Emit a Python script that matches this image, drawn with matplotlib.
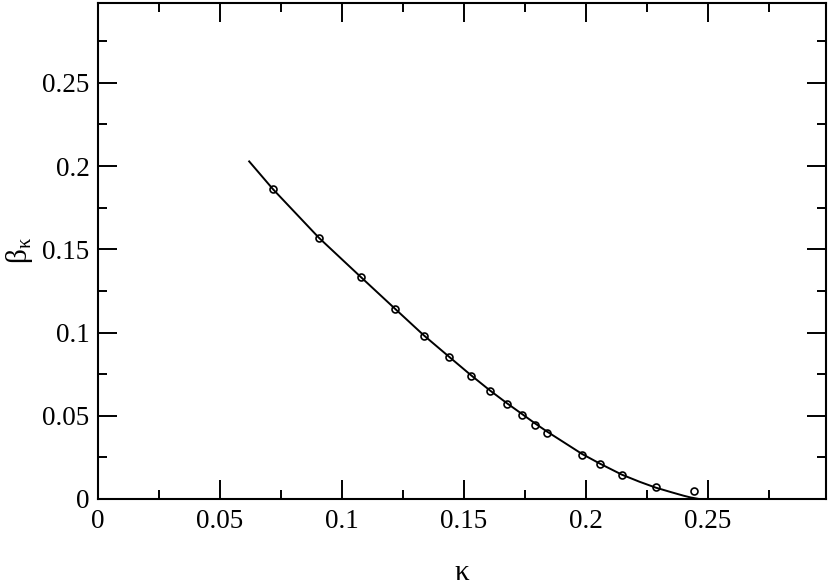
import numpy as np
import matplotlib
matplotlib.use("Agg")
import matplotlib.pyplot as plt
from matplotlib.ticker import MultipleLocator

plt.rcParams['font.family'] = ['Liberation Serif', 'DejaVu Serif']
plt.rcParams['mathtext.fontset'] = 'stix'

# measured points
kappa = [0.0717, 0.0906, 0.1078, 0.1217, 0.1336, 0.1439, 0.1529, 0.1607,
         0.1676, 0.1738, 0.1791, 0.1840, 0.1984, 0.2057, 0.2148, 0.2287, 0.2443]
beta = [0.1860, 0.1569, 0.1334, 0.1144, 0.0982, 0.0855, 0.0741, 0.0651,
        0.0572, 0.0506, 0.0447, 0.0399, 0.0265, 0.0210, 0.0144, 0.0072, 0.0048]

# fitted curve
kappa_fit = [0.0620, 0.0717, 0.0906, 0.1078, 0.1217, 0.1336, 0.1439, 0.1529,
             0.1607, 0.1676, 0.1738, 0.1791, 0.1840, 0.1984, 0.2057, 0.2148,
             0.2221, 0.2287, 0.2352, 0.2400, 0.2430, 0.2460]
beta_fit = [0.2028, 0.1862, 0.1569, 0.1333, 0.1144, 0.0983, 0.0855, 0.0744,
            0.0652, 0.0576, 0.0511, 0.0455, 0.0406, 0.0271, 0.0213, 0.0146,
            0.0103, 0.0068, 0.0040, 0.0020, 0.0009, 0.0001]

ticks = [0, 0.05, 0.1, 0.15, 0.2, 0.25]
tick_labels = ['0', '0.05', '0.1', '0.15', '0.2', '0.25']

fig = plt.figure(figsize=(8.3, 5.88), dpi=100)
ax = fig.add_axes([0.118, 0.1514, 0.877, 0.8436])

ax.plot(kappa_fit, beta_fit, color='black', lw=1.4)
ax.plot(kappa, beta, 'o', mfc='none', mec='black', ms=5, mew=1.2)

ax.set_xlim(0, 0.2984)
ax.set_ylim(0, 0.298)
ax.xaxis.set_minor_locator(MultipleLocator(0.025))
ax.yaxis.set_minor_locator(MultipleLocator(0.025))
ax.set_xticks(ticks)
ax.set_xticklabels(tick_labels)
ax.set_yticks(ticks)
ax.set_yticklabels(tick_labels)

ax.tick_params(which='both', direction='in', top=True, right=True, width=1.4,
               labelsize=19.5)
ax.tick_params(which='major', length=13.5)
ax.tick_params(axis='x', which='major', pad=7)
ax.tick_params(axis='y', which='major', pad=6)
ax.tick_params(which='minor', length=6.8)
for s in ax.spines.values():
    s.set_linewidth(1.5)

ax.set_xlabel(r'$\mathregular{κ}$', fontsize=21, labelpad=19)
ax.set_ylabel(r'$\mathregular{β_{κ}}$', fontsize=21, labelpad=5)

fig.savefig('out.png', dpi=100)
